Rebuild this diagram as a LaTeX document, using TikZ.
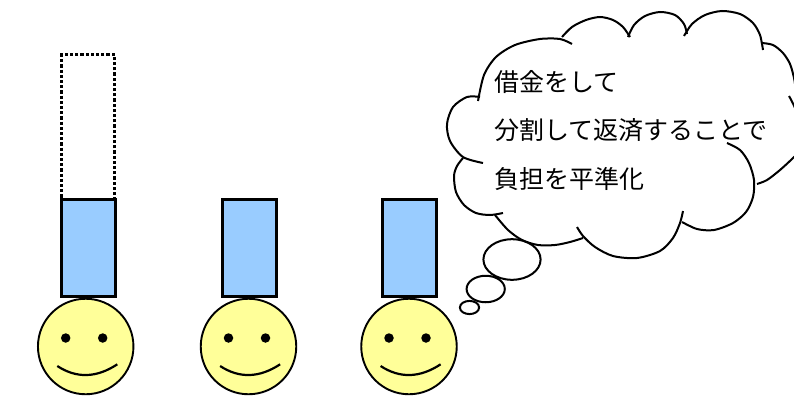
\documentclass[tikz,border=0pt]{standalone}
\usepackage{fontspec}
\newfontfamily\jpfont{Noto Sans CJK JP}
\usetikzlibrary{calc,positioning,shapes.geometric}
\definecolor{barblue}{HTML}{99CCFF}
\definecolor{faceyellow}{HTML}{FFFF99}

\begin{document}
\begin{tikzpicture}[x=1pt, y=-1pt,
    bar/.style={draw, line width=2.9pt, fill=barblue, outer sep=0pt, minimum width=54pt, minimum height=97pt},
    ghost/.style={draw, line width=3pt, dash pattern=on 3.2pt off 2pt, outer sep=0pt, minimum width=53pt, minimum height=144.5pt},
    face/.style={circle, draw, line width=1.9pt, fill=faceyellow, inner sep=0pt, minimum size=95.5pt},
    eye/.style={circle, fill=black, inner sep=0pt, minimum size=9.5pt},
    smile/.style={line width=2.2pt},
    puff/.style={line width=2pt},
    bubble/.style={ellipse, draw, line width=2pt, inner sep=0pt},
    memo/.style={anchor=base west, inner sep=0pt, font=\jpfont\fontsize{25}{30}\selectfont}]
  \useasboundingbox (0,0) rectangle (794,399);

  % three loads, the first one with its empty top part
  \node [bar] (bar1) at (88.3,247.9) {};
  \node [bar] (bar2) at (249.5,247.9) {};
  \node [bar] (bar3) at (409.2,247.9) {};
  \node [ghost, above=0pt of bar1] (ghost1) {};

  % faces
  \node [face] (face1) at (85.7,346.5) {};
  \node [face] (face2) at (248.5,346.5) {};
  \node [face] (face3) at (409,346.5) {};
  \node [eye] (eye1l) at ($(face1)+(-20,-8.5)$) {};
  \node [eye] (eye1r) at ($(face1)+(17,-8.5)$) {};
  \node [eye] (eye2l) at ($(face2)+(-20,-8.5)$) {};
  \node [eye] (eye2r) at ($(face2)+(17,-8.5)$) {};
  \node [eye] (eye3l) at ($(face3)+(-20,-8.5)$) {};
  \node [eye] (eye3r) at ($(face3)+(17,-8.5)$) {};
  \draw [smile] ($(face1)+(-28.4,19.5)$) .. controls ($(face1)+(-9.2,32.1)$) and ($(face1)+(10.8,31.5)$) .. ($(face1)+(31.6,17.8)$);
  \draw [smile] ($(face2)+(-28.4,19.5)$) .. controls ($(face2)+(-9.2,32.1)$) and ($(face2)+(10.8,31.5)$) .. ($(face2)+(31.6,17.8)$);
  \draw [smile] ($(face3)+(-28.4,19.5)$) .. controls ($(face3)+(-9.2,32.1)$) and ($(face3)+(10.8,31.5)$) .. ($(face3)+(31.6,17.8)$);

  % thought cloud, one puff at a time
  \begin{scope}
    \clip (0,0) rectangle (794,399);
    \draw [puff] plot [smooth] coordinates {(483,163) (463,157) (450,141) (447,124) (453,107) (467,97) (480,97)};
    \draw [puff] plot [smooth] coordinates {(478,101) (484,75) (496,57) (515,45) (540,39) (560,39) (572,44)};
    \draw [puff] plot [smooth] coordinates {(562,37) (572,27) (586,20) (600,17) (613,20) (623,27) (630,37)};
    \draw [puff] plot [smooth] coordinates {(628,37) (634,25) (645,16) (660,12) (675,15) (684,24) (687,34)};
    \draw [puff] plot [smooth] coordinates {(684,36) (692,24) (705,15) (722,11) (740,14) (753,23) (760,35) (763,50)};
    \draw [puff] plot [smooth] coordinates {(762,43) (773,45) (783,53) (790,64) (794,78) (796,92) (797,105)};
    \draw [puff] plot [smooth] coordinates {(789,96) (795,108) (802,130) (800,150) (793,158) (780,170) (767,180) (757,184)};
    \draw [puff] plot [smooth] coordinates {(727,143) (740,150) (749,163) (754,180) (753,197) (746,212) (733,223) (714,230) (697,229) (682,222)};
    \draw [puff] plot [smooth] coordinates {(683,211) (680,223) (673,238) (660,251) (637,258) (613,256) (595,247) (583,236) (577,227)};
    \draw [puff] plot [smooth] coordinates {(583,238) (570,242) (555,245) (538,245) (522,240) (508,230) (495,215)};
    \draw [puff] plot [smooth] coordinates {(503,213) (490,215) (476,213) (464,205) (456,192) (454,176) (457,166) (463,158)};
  \end{scope}
  \node [bubble, minimum width=57.2pt, minimum height=40.6pt] (bub1) at (512,259.5) {};
  \node [bubble, minimum width=38.2pt, minimum height=26.5pt] (bub2) at (485.7,289) {};
  \node [bubble, minimum width=19.2pt, minimum height=13.2pt] (bub3) at (469.5,307.5) {};

  \node [memo] (line1) at (494,91) {借金をして};
  \node [memo] (line2) at (494,139.5) {分割して返済することで};
  \node [memo] (line3) at (494,188) {負担を平準化};
\end{tikzpicture}
\end{document}
